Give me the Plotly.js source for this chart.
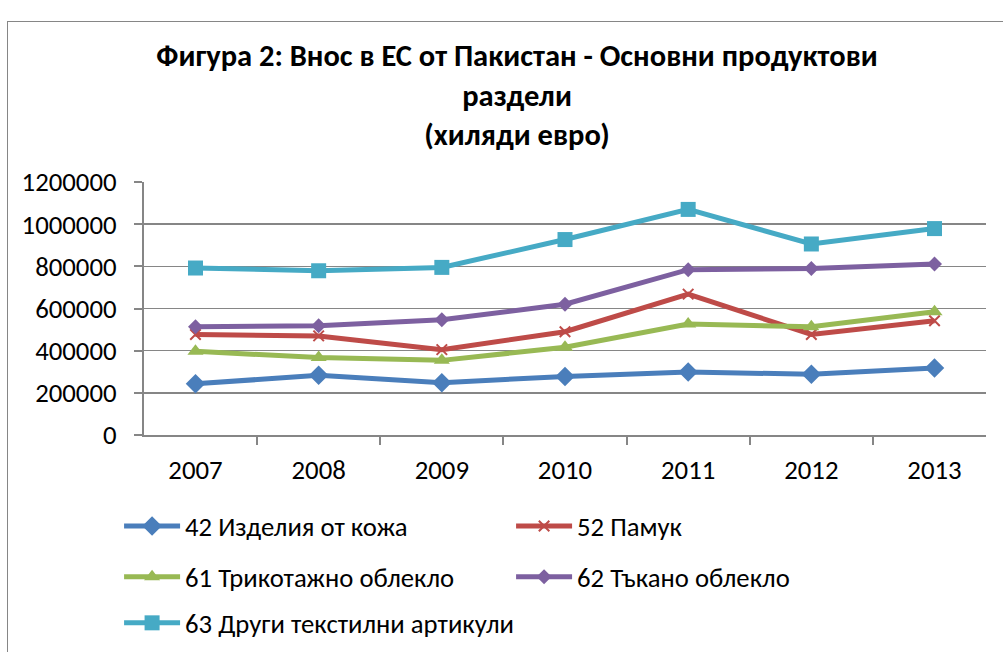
<!DOCTYPE html>
<html><head><meta charset="utf-8">
<script src="https://cdn.plot.ly/plotly-3.0.1.min.js"></script>
<style>
html,body{margin:0;padding:0;background:#fff;overflow:hidden}
#frame{position:absolute;left:7px;top:21px;width:1100px;height:700px;border:1px solid #868686;}
#chart{position:absolute;left:0;top:0;width:1003px;height:652px}
</style></head><body>
<div id="frame"></div>
<div id="chart"></div>
<script>
const years = ['2007','2008','2009','2010','2011','2012','2013'];
const names = ['42 Изделия от кожа','52 Памук','61 Трикотажно облекло','62 Тъкано облекло','63 Други текстилни артикули'];
const leather  = [243000, 283000, 248000, 278000, 299000, 288000, 318000];
const cotton   = [477000, 470000, 405000, 490000, 668000, 477000, 542000];
const knitwear = [397000, 367000, 354000, 416000, 526000, 513000, 585000];
const woven    = [513000, 518000, 547000, 620000, 784000, 790000, 811000];
const textiles = [792000, 779000, 795000, 927000, 1070000, 906000, 979000];
const yTicks = [0, 200000, 400000, 600000, 800000, 1000000, 1200000];

const FONT = 'Carlito, Calibri, Liberation Sans, sans-serif';
const colors = ['#4A7EBB','#BE4B48','#98B954','#7D60A0','#46AAC5'];
const symbols = ['diamond','x-thin','triangle-up','diamond','square'];
const sizes = [15, 10.5, 14, 11.5, 15];
const series = [leather, cotton, knitwear, woven, textiles];
const legendOf = ['legend','legend','legend2','legend2','legend3'];

const traces = series.map((s,i)=>({
  type:'scatter', mode:'lines+markers', x:years, y:s, name:names[i],
  legend: legendOf[i],
  line:{color:colors[i], width:5},
  marker:{symbol:symbols[i], size:sizes[i], color:colors[i],
          line:{color:colors[i], width: symbols[i]==='x-thin'?2:0}},
  hoverinfo:'x+y+name'
}));

const legendBase = {orientation:'h', x:-0.0296, xanchor:'left', yanchor:'middle',
  font:{family:FONT, size:26.7, color:'#000'}, entrywidth:321, entrywidthmode:'pixels',
  bgcolor:'rgba(0,0,0,0)', itemwidth:56, tracegroupgap:0};

const layout = {
  width:1003, height:652,
  margin:{l:144, r:17, t:182, b:217, autoexpand:false},
  paper_bgcolor:'rgba(0,0,0,0)', plot_bgcolor:'rgba(0,0,0,0)',
  title:{text:'<b>Фигура 2: Внос в ЕС от Пакистан - Основни продуктови<br>раздели<br>(хиляди евро)</b>',
    font:{family:FONT, size:30.5, color:'#000'}, x:0.5155, xanchor:'center', y:0.899, yanchor:'top',
    automargin:false},
  xaxis:{type:'category', tickson:'boundaries', ticks:'outside', ticklen:8, tickwidth:2, tickcolor:'#868686',
    showline:true, linecolor:'#868686', linewidth:2, showgrid:false, zeroline:false, ticklabelstandoff:10,
    tickfont:{family:FONT, size:26.8, color:'#000'}, fixedrange:true, automargin:false},
  yaxis:{range:[0,1200000], tickvals:yTicks, ticktext:yTicks.map(String), ticks:'outside', ticklen:8, tickwidth:2,
    tickcolor:'#868686', showline:true, linecolor:'#868686', linewidth:2, ticklabelstandoff:12,
    showgrid:true, gridcolor:'#868686', gridwidth:1.5, zeroline:false,
    tickfont:{family:FONT, size:26.8, color:'#000'}, fixedrange:true, automargin:false},
  legend: Object.assign({}, legendBase, {y:-0.360}),
  legend2: Object.assign({}, legendBase, {y:-0.561}),
  legend3: Object.assign({}, legendBase, {y:-0.743, entrywidth:0}),
  showlegend:true
};
Plotly.newPlot('chart', traces, layout, {displayModeBar:false, staticPlot:true});
</script></body></html>
